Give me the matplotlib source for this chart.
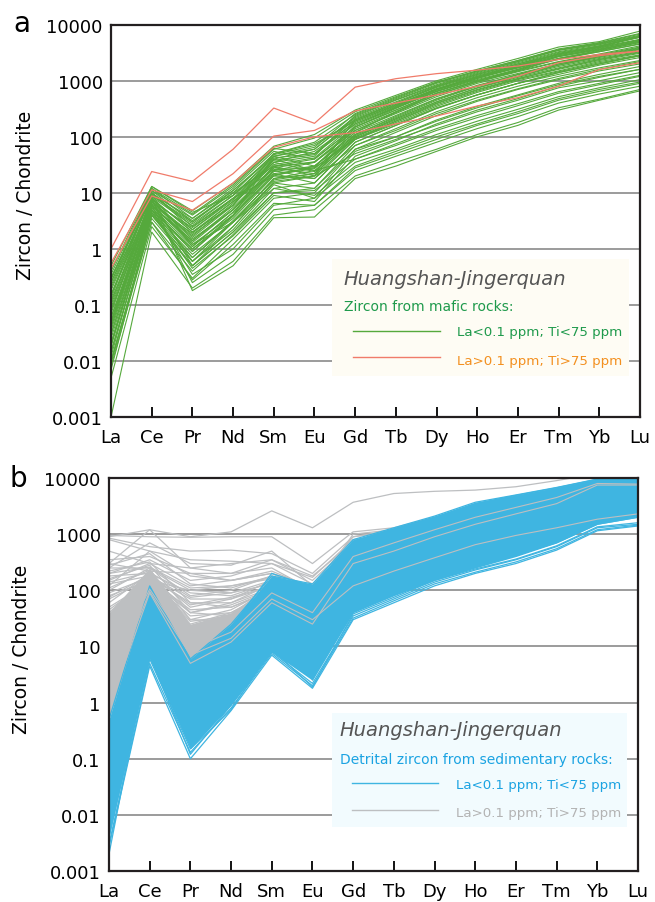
import numpy as np
import matplotlib.pyplot as plt

plt.rcParams['font.family'] = ['DejaVu Sans']

ree = ['La', 'Ce', 'Pr', 'Nd', 'Sm', 'Eu', 'Gd', 'Tb', 'Dy', 'Ho', 'Er', 'Tm', 'Yb', 'Lu']
yticks = [0.001, 0.01, 0.1, 1, 10, 100, 1000, 10000]
ytick_labels = ['0.001', '0.01', '0.1', '1', '10', '100', '1000', '10000']

# panel a: zircon from mafic rocks (chondrite normalised)
green_a = [
    [0.40, 13, 4.8, 15, 68, 110, 300, 550, 1000, 1600, 2500, 4000, 5000, 7700],
    [0.30, 11, 4.0, 13, 60, 95, 280, 520, 950, 1500, 2300, 3700, 4800, 7000],
    [0.20, 9, 3.0, 10, 50, 80, 250, 480, 900, 1450, 2200, 3500, 4500, 6300],
    [0.15, 10, 2.5, 8, 40, 60, 220, 420, 800, 1300, 2000, 3000, 4000, 5500],
    [0.10, 8, 2.0, 7, 35, 55, 180, 350, 700, 1150, 1700, 2500, 3500, 4800],
    [0.08, 7, 1.5, 5, 30, 40, 150, 300, 600, 1000, 1500, 2200, 3000, 4200],
    [0.05, 6, 1.2, 4, 25, 35, 130, 260, 520, 900, 1350, 2000, 2700, 3800],
    [0.03, 5, 1.0, 3.5, 20, 30, 110, 220, 450, 800, 1200, 1800, 2500, 3400],
    [0.02, 4.5, 0.8, 3, 18, 25, 100, 200, 400, 700, 1100, 1600, 2300, 3100],
    [0.015, 4, 0.6, 2.5, 15, 20, 90, 180, 350, 620, 1000, 1450, 2100, 2800],
    [0.01, 3.5, 0.5, 2, 12, 15, 80, 160, 320, 560, 900, 1300, 1900, 2600],
    [0.008, 3, 0.4, 1.8, 10, 12, 70, 140, 280, 500, 800, 1200, 1700, 2300],
    [0.005, 2.5, 0.3, 1.5, 8, 10, 60, 120, 240, 430, 700, 1050, 1500, 2000],
    [0.001, 2, 0.2, 0.6, 4, 5, 20, 35, 60, 110, 180, 330, 470, 700],
    [0.25, 8, 0.18, 0.5, 3.6, 3.7, 18, 30, 55, 100, 160, 300, 450, 660],
    [0.12, 6, 0.25, 0.8, 5, 6, 25, 45, 80, 140, 230, 400, 580, 800],
    [0.06, 5, 0.35, 1.0, 6, 8, 30, 55, 100, 170, 280, 480, 700, 950],
    [0.35, 12, 3.5, 12, 55, 40, 150, 320, 650, 1100, 1800, 3000, 4000, 6000],
    [0.18, 9, 2.8, 9, 45, 30, 120, 280, 600, 1000, 1600, 2700, 3600, 5200],
    [0.04, 7, 1.8, 6, 40, 25, 40, 70, 130, 220, 360, 600, 850, 1200],
    [0.02, 6, 1.4, 5, 30, 20, 50, 90, 160, 280, 450, 750, 1000, 1400],
    [0.012, 5, 0.7, 3, 15, 12, 60, 100, 190, 330, 540, 850, 1200, 1600],
    [0.3, 10, 2.2, 8, 20, 18, 90, 170, 330, 560, 900, 1400, 2000, 2800],
    [0.07, 8, 1.1, 4.5, 28, 22, 100, 210, 420, 750, 1200, 1900, 2700, 3700],
    [0.03, 5.5, 0.9, 4, 22, 28, 160, 330, 650, 1100, 1700, 2700, 3600, 5000],
    [0.009, 4, 0.6, 3, 18, 22, 200, 400, 780, 1300, 2000, 3200, 4200, 6000],
    [0.15, 7, 1.6, 6, 35, 45, 240, 460, 850, 1400, 2200, 3500, 4600, 6500],
    [0.05, 6, 1.3, 5, 25, 18, 70, 130, 260, 450, 720, 1100, 1600, 2200],
    [0.25, 11, 3.0, 11, 48, 70, 200, 380, 720, 1200, 1900, 3000, 4200, 6000],
    [0.02, 4.5, 0.45, 1.7, 9, 7, 45, 85, 170, 300, 480, 800, 1150, 1600],
    [0.22, 9.5, 3.5, 11, 45, 65, 260, 500, 930, 1500, 2300, 3600, 4700, 6800],
    [0.11, 8.5, 2.6, 9, 42, 50, 210, 400, 760, 1250, 1900, 2900, 3900, 5300],
    [0.09, 7.5, 2.2, 7.5, 38, 48, 190, 370, 720, 1200, 1800, 2800, 3700, 5100],
    [0.045, 6.5, 1.7, 6.5, 32, 42, 170, 330, 640, 1050, 1600, 2400, 3300, 4500],
    [0.035, 6, 1.4, 5.5, 28, 36, 140, 280, 560, 950, 1450, 2150, 2900, 4000],
    [0.025, 5.5, 1.1, 4.5, 24, 30, 120, 240, 480, 830, 1280, 1900, 2600, 3600],
    [0.018, 5, 0.9, 3.8, 21, 27, 105, 210, 420, 740, 1150, 1700, 2400, 3200],
    [0.014, 4.2, 0.7, 3.2, 17, 22, 95, 190, 370, 650, 1050, 1500, 2200, 2900],
    [0.28, 12, 4.2, 14, 62, 50, 170, 340, 680, 1150, 1850, 3100, 4100, 6200],
    [0.13, 10, 3.2, 10, 30, 35, 130, 270, 560, 950, 1500, 2500, 3400, 4900],
    [0.06, 7, 2.4, 8, 26, 28, 90, 190, 390, 680, 1080, 1650, 2400, 3300],
    [0.04, 6, 1.9, 7, 22, 15, 80, 160, 320, 560, 900, 1400, 2000, 2800],
    [0.3, 9, 1.2, 3, 12, 9, 35, 60, 110, 190, 310, 520, 750, 1050],
    [0.15, 7.5, 0.5, 2, 10, 11, 40, 75, 140, 240, 390, 640, 900, 1250],
    [0.08, 6.5, 0.6, 2.2, 14, 8, 55, 100, 200, 350, 560, 900, 1300, 1800],
    [0.01, 3, 0.28, 1.2, 6.5, 6, 28, 50, 90, 160, 260, 450, 650, 900],
    [0.007, 4, 0.5, 2.5, 16, 20, 150, 300, 600, 1000, 1550, 2500, 3300, 4600],
    [0.02, 5, 1.0, 4, 45, 60, 230, 450, 820, 1350, 2100, 3300, 4400, 6200],
    [0.05, 8, 2.0, 6, 50, 75, 190, 360, 690, 1150, 1750, 2800, 3800, 5400],
    [0.5, 13, 4.5, 9, 35, 24, 110, 230, 470, 800, 1300, 2000, 2800, 3900],
]
red_a = [
    [1.0, 24, 16, 60, 326, 174, 770, 1090, 1340, 1550, 1830, 2400, 2950, 3400],
    [0.56, 11.3, 7, 22, 103, 130, 290, 400, 560, 800, 1200, 2100, 2800, 3400],
    [0.45, 8.8, 4.9, 15, 65, 100, 119, 170, 235, 355, 500, 800, 1590, 2100],
]

# panel b: detrital zircon from sedimentary rocks
blue_band_low = [0.004, 6, 0.15, 0.9, 8, 2.5, 40, 80, 150, 250, 400, 700, 1500, 2000]
blue_band_high = [0.5, 120, 6, 25, 180, 130, 800, 1300, 2100, 3700, 5000, 6800, 9600, 10000]
gray_band_low = [0.5, 90, 5, 10, 40, 8, 150, 300, 500, 900, 1300, 2000, 3500, 4000]
gray_band_high = [40, 250, 25, 40, 130, 60, 600, 1000, 1700, 3000, 4300, 6000, 9000, 9000]
blue_b = [
    [0.0027, 4.5, 0.1, 0.72, 7, 1.8, 30, 60, 120, 200, 300, 520, 1150, 1400],
    [0.003, 5, 0.13, 0.8, 7.5, 2.0, 32, 65, 130, 210, 320, 550, 1200, 1450],
    [0.006, 7, 0.12, 0.9, 8, 2.2, 35, 70, 140, 230, 350, 600, 1300, 1500],
    [0.5, 120, 6, 25, 180, 130, 800, 1300, 2100, 3700, 5000, 6800, 9600, 10000],
    [0.3, 100, 5, 22, 200, 115, 750, 1250, 2000, 3500, 4900, 6700, 9500, 9800],
    [0.01, 90, 4, 12, 100, 70, 500, 900, 1500, 2500, 3500, 5000, 8000, 8500],
    [0.05, 60, 3, 15, 100, 100, 600, 1000, 1700, 3000, 4200, 6000, 9000, 9500],
    [0.002, 10, 0.3, 1.5, 10, 3, 45, 90, 170, 280, 420, 700, 1500, 2000],
    [0.1, 30, 1, 4, 40, 20, 200, 350, 600, 1000, 1500, 2300, 4000, 5000],
    [0.02, 20, 0.5, 2, 20, 8, 100, 180, 320, 550, 850, 1300, 2500, 3000],
    [0.2, 80, 2, 10, 60, 40, 300, 500, 900, 1500, 2200, 3300, 6000, 6500],
    [0.004, 6, 0.15, 0.75, 9, 1.9, 38, 75, 150, 240, 360, 620, 1350, 1600],
]
gray_b = [
    [900, 1200, 900, 1100, 2600, 1300, 3700, 5300, 5800, 6100, 7000, 9000, 12000, 12000],
    [850, 600, 500, 520, 450, 200, 900, 1100, 1800, 2800, 4000, 6000, 9000, 9500],
    [800, 500, 350, 330, 300, 170, 800, 1000, 1700, 2700, 3900, 5800, 8800, 9200],
    [950, 900, 880, 900, 900, 300, 1100, 1300, 2000, 3000, 4500, 6500, 9000, 9500],
    [300, 1200, 250, 200, 350, 150, 700, 1000, 1600, 2500, 3600, 5200, 8000, 8500],
    [250, 700, 300, 280, 500, 120, 900, 1200, 1900, 3000, 4300, 6200, 9200, 9500],
    [350, 400, 200, 200, 250, 100, 600, 900, 1400, 2300, 3300, 4800, 7500, 8000],
    [200, 350, 150, 180, 300, 130, 500, 800, 1300, 2100, 3000, 4500, 7000, 7500],
    [150, 300, 120, 150, 200, 90, 450, 700, 1200, 2000, 2800, 4200, 6800, 7200],
    [100, 250, 80, 100, 180, 70, 400, 650, 1100, 1800, 2600, 4000, 6500, 7000],
    [60, 200, 50, 70, 150, 60, 350, 600, 1000, 1600, 2400, 3600, 6000, 6500],
    [40, 180, 40, 60, 130, 50, 300, 500, 900, 1500, 2200, 3300, 5500, 6000],
    [20, 150, 30, 45, 110, 40, 250, 450, 800, 1300, 1900, 2900, 5000, 5500],
    [10, 130, 20, 35, 90, 30, 200, 380, 700, 1150, 1700, 2600, 4500, 5000],
    [5, 110, 12, 25, 70, 15, 150, 300, 550, 900, 1400, 2200, 4000, 4500],
    [2, 100, 8, 18, 60, 2.5, 120, 250, 450, 750, 1100, 1800, 3300, 3800],
    [1, 80, 6, 15, 50, 3, 100, 200, 400, 650, 1000, 1600, 3000, 3500],
    [500, 300, 250, 300, 350, 180, 700, 900, 1500, 2500, 3600, 5500, 8500, 9000],
    [120, 500, 180, 150, 220, 110, 650, 1000, 1600, 2600, 3800, 5600, 8600, 9000],
    [80, 150, 100, 120, 160, 90, 1000, 1200, 1900, 3000, 4400, 6300, 9300, 9600],
    [30, 120, 25, 40, 100, 45, 280, 480, 850, 1400, 2100, 3100, 5200, 5800],
    [250, 250, 100, 90, 150, 100, 500, 800, 1300, 2100, 3100, 4600, 7200, 7600],
    [180, 200, 90, 80, 140, 80, 450, 750, 1250, 2000, 2900, 4300, 6900, 7300],
    [130, 180, 70, 70, 120, 60, 400, 700, 1150, 1900, 2700, 4100, 6600, 7000],
    [90, 170, 60, 60, 110, 50, 380, 650, 1100, 1800, 2600, 3900, 6300, 6800],
    [70, 160, 45, 50, 100, 45, 350, 600, 1000, 1700, 2500, 3700, 6100, 6600],
    [50, 140, 35, 40, 90, 35, 320, 550, 950, 1600, 2300, 3500, 5800, 6300],
    [35, 130, 28, 35, 80, 30, 300, 520, 900, 1500, 2200, 3300, 5500, 6000],
    [25, 120, 22, 30, 75, 28, 280, 480, 850, 1400, 2100, 3200, 5300, 5800],
    [15, 110, 18, 25, 70, 25, 260, 450, 800, 1350, 2000, 3000, 5100, 5600],
    [8, 100, 14, 20, 65, 20, 240, 420, 750, 1250, 1900, 2900, 4900, 5400],
    [300, 220, 200, 150, 200, 120, 550, 850, 1400, 2200, 3200, 4700, 7400, 7800],
    [280, 450, 130, 110, 180, 110, 600, 900, 1450, 2300, 3400, 5000, 7800, 8200],
    [220, 320, 60, 50, 100, 70, 420, 700, 1200, 1900, 2800, 4200, 6700, 7100],
    [160, 280, 40, 35, 90, 60, 380, 650, 1100, 1800, 2600, 3900, 6400, 6900],
    [110, 230, 30, 28, 80, 40, 340, 600, 1000, 1650, 2400, 3600, 6000, 6500],
    [200, 260, 110, 120, 170, 100, 480, 780, 1300, 2100, 3000, 4500, 7100, 7500],
    [140, 210, 75, 90, 130, 85, 420, 720, 1200, 1950, 2800, 4200, 6800, 7200],
    [75, 190, 55, 75, 120, 70, 380, 660, 1100, 1800, 2650, 4000, 6500, 7000],
    [45, 150, 40, 55, 105, 55, 330, 580, 1000, 1650, 2450, 3700, 6100, 6600],
]
gray_b_over = [
    [0.8, 90, 5, 12, 60, 25, 300, 500, 900, 1500, 2300, 3500, 7500, 7500],
    [1.5, 95, 7, 14, 70, 30, 120, 220, 380, 650, 950, 1300, 1850, 2300],
    [4, 105, 9, 18, 90, 40, 400, 700, 1200, 2000, 3000, 4500, 8000, 7800],
]

GREEN = '#55a93c'
RED = '#f07b6a'
BLUE = '#3fb5e1'
GRAY = '#bdbfc1'

x = np.arange(len(ree))


def setup(ax):
    ax.set_yscale('log')
    ax.set_xlim(0, 13)
    ax.set_ylim(0.001, 10000)
    ax.set_yticks(yticks)
    ax.set_yticklabels(ytick_labels)
    ax.minorticks_off()
    ax.set_xticks(x)
    ax.set_xticklabels(ree)
    ax.tick_params(axis='y', length=0, pad=6, labelsize=13)
    ax.tick_params(axis='x', direction='in', length=7, width=1.3, pad=8, labelsize=13)
    for yv in yticks[1:-1]:
        ax.axhline(yv, color='#8a8a8a', lw=1.2, zorder=0.5)
    for s in ax.spines.values():
        s.set_linewidth(1.6)
        s.set_color('#231f20')
        s.set_zorder(10)
    ax.set_ylabel('Zircon / Chondrite', fontsize=13.5)


fig = plt.figure(figsize=(6.55, 9.03), dpi=100)
ax1 = fig.add_axes([0.1695, 0.5371, 0.8076, 0.4344])
ax2 = fig.add_axes([0.1664, 0.0343, 0.8076, 0.4352])

# ---- panel a
setup(ax1)
ax1.yaxis.set_label_coords(-0.143, 0.567)
for row in green_a:
    ax1.plot(x, row, color=GREEN, lw=0.8, zorder=2)
for row in red_a:
    ax1.plot(x, row, color=RED, lw=0.9, zorder=3)

ax1.add_patch(plt.Rectangle((0.418, 0.1045), 0.561, 0.2985, transform=ax1.transAxes,
                            facecolor='#fefcf4', edgecolor='none', zorder=4))
ax1.text(0.440, 0.352, 'Huangshan-Jingerquan', transform=ax1.transAxes, style='italic',
         fontsize=14, color='#555555', va='center', zorder=5)
ax1.text(0.440, 0.284, 'Zircon from mafic rocks:', transform=ax1.transAxes,
         fontsize=10, color='#1f9a4c', va='center', zorder=5)
ax1.plot([0.4575, 0.622], [0.219, 0.219], transform=ax1.transAxes, color=GREEN, lw=1, zorder=5)
ax1.plot([0.4575, 0.622], [0.153, 0.153], transform=ax1.transAxes, color=RED, lw=1, zorder=5)
ax1.text(0.654, 0.217, 'La<0.1 ppm; Ti<75 ppm', transform=ax1.transAxes,
         fontsize=9.6, color='#1f9a4c', va='center', zorder=5)
ax1.text(0.654, 0.145, 'La>0.1 ppm; Ti>75 ppm', transform=ax1.transAxes,
         fontsize=9.6, color='#f39020', va='center', zorder=5)

# ---- panel b
setup(ax2)
ax2.yaxis.set_label_coords(-0.147, 0.566)
ax2.fill_between(x, gray_band_low, gray_band_high, color=GRAY, lw=0, zorder=1.5)
for row in gray_b:
    ax2.plot(x, row, color=GRAY, lw=0.9, zorder=2)
ax2.fill_between(x, blue_band_low, blue_band_high, color=BLUE, lw=0, zorder=2.5)
for row in blue_b:
    ax2.plot(x, row, color=BLUE, lw=0.9, zorder=3)
for row in gray_b_over:
    ax2.plot(x, row, color=GRAY, lw=0.8, zorder=3.2)

ax2.add_patch(plt.Rectangle((0.4216, 0.112), 0.5574, 0.29, transform=ax2.transAxes,
                            facecolor='#f2fbfe', edgecolor='none', zorder=4))
ax2.text(0.436, 0.359, 'Huangshan-Jingerquan', transform=ax2.transAxes, style='italic',
         fontsize=14, color='#555555', va='center', zorder=5)
ax2.text(0.436, 0.285, 'Detrital zircon from sedimentary rocks:', transform=ax2.transAxes,
         fontsize=10, color='#1ba3e2', va='center', zorder=5)
ax2.plot([0.4595, 0.622], [0.224, 0.224], transform=ax2.transAxes, color=BLUE, lw=1, zorder=5)
ax2.plot([0.4595, 0.622], [0.155, 0.155], transform=ax2.transAxes, color=GRAY, lw=1, zorder=5)
ax2.text(0.656, 0.221, 'La<0.1 ppm; Ti<75 ppm', transform=ax2.transAxes,
         fontsize=9.6, color='#1ba3e2', va='center', zorder=5)
ax2.text(0.656, 0.150, 'La>0.1 ppm; Ti>75 ppm', transform=ax2.transAxes,
         fontsize=9.6, color='#b3b3b3', va='center', zorder=5)

fig.text(0.020, 0.973, 'a', fontsize=20, va='center', ha='left')
fig.text(0.014, 0.469, 'b', fontsize=20, va='center', ha='left')

fig.savefig('out.png', dpi=100)
